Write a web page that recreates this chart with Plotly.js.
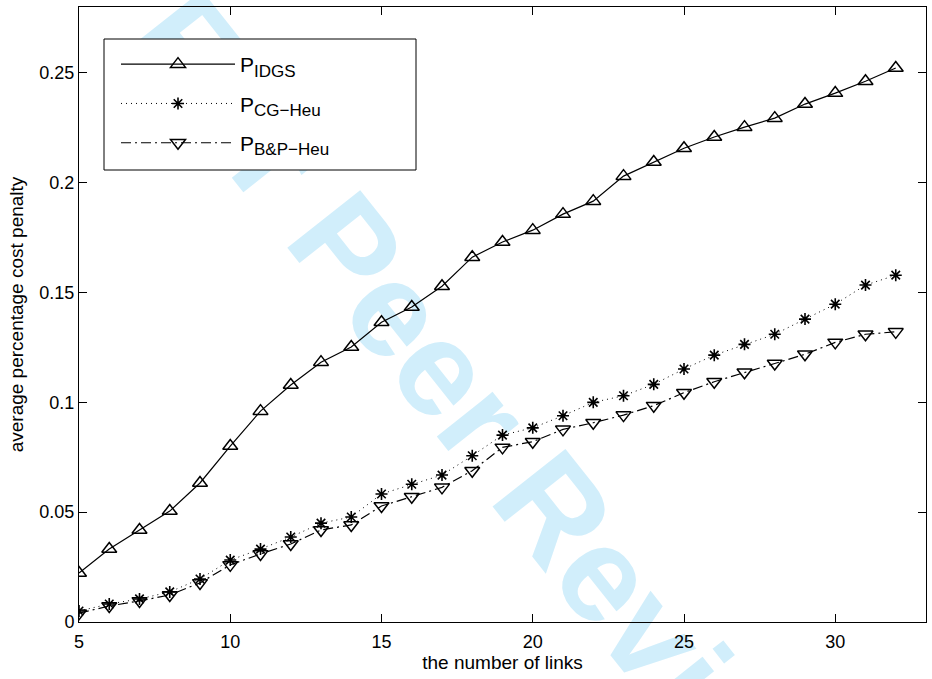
<!DOCTYPE html>
<html>
<head>
<meta charset="utf-8">
<script src="https://cdn.plot.ly/plotly-3.0.1.min.js"></script>
<style>
  html, body { margin: 0; padding: 0; background: #ffffff; }
  #wm, #chart { position: absolute; left: 0; top: 0; width: 932px; height: 679px; }
</style>
</head>
<body>
<div id="wm"></div>
<div id="chart"></div>
<script>
// ---- data ----
const links = [5,6,7,8,9,10,11,12,13,14,15,16,17,18,19,20,21,22,23,24,25,26,27,28,29,30,31,32];
const pIDGS = [0.0223,0.0332,0.0419,0.0505,0.0633,0.0801,0.0960,0.1079,0.1183,0.1252,0.1365,0.1434,0.1529,0.1661,0.1730,0.1784,0.1857,0.1916,0.2030,0.2094,0.2157,0.2208,0.2253,0.2294,0.2358,0.2408,0.2462,0.2522];
const pCG = [0.0050,0.0082,0.0105,0.0137,0.0196,0.0282,0.0332,0.0387,0.0450,0.0478,0.0583,0.0627,0.0669,0.0757,0.0851,0.0884,0.0939,0.1000,0.1030,0.1082,0.1152,0.1215,0.1264,0.1310,0.1379,0.1447,0.1534,0.1579];
const pBP = [0.0040,0.0073,0.0096,0.0123,0.0178,0.0260,0.0310,0.0355,0.0419,0.0442,0.0528,0.0570,0.0613,0.0689,0.0795,0.0821,0.0877,0.0907,0.0942,0.0985,0.1044,0.1094,0.1137,0.1177,0.1219,0.1273,0.1310,0.1321];
const seriesBase = ['P', 'P', 'P'];
const seriesSub = ['IDGS', 'CG\u2212Heu', 'B&amp;P\u2212Heu'];
const xTicks = [5,10,15,20,25,30];
const yTicks = [0,0.05,0.1,0.15,0.2,0.25];
const yTickText = ['0','0.05','0.1','0.15','0.2','0.25'];
const xTitle = 'the number of links';
const yTitle = 'average percentage cost penalty';
const watermark = 'For Peer Review';

const FONT = 'Liberation Sans, Arial, Helvetica, sans-serif';

// plot area geometry (px) used to place legend box
const W = 932, H = 679, ML = 79, MR = 6, MT = 7, MB = 57;
const PW = W - ML - MR, PH = H - MT - MB;
const px2x = p => (p - ML) / PW;
const py2y = p => (H - MB - p) / PH;

// ---- watermark (drawn underneath) ----
Plotly.newPlot('wm', [], {
  width: W, height: H,
  margin: {l:0, r:0, t:0, b:0},
  paper_bgcolor: '#ffffff', plot_bgcolor: '#ffffff',
  xaxis: {visible: false}, yaxis: {visible: false},
  showlegend: false,
  annotations: [{
    text: watermark, xref: 'paper', yref: 'paper',
    x: 487 / W, y: 1 - 424 / H, xanchor: 'center', yanchor: 'middle',
    textangle: 51.6, showarrow: false,
    font: {family: FONT, size: 135, color: '#d1eefb', weight: 'bold'}
  }]
}, {staticPlot: true});

// ---- chart ----
const legName = i => seriesBase[i] + '<sub><span style="font-size:17px">' + seriesSub[i] + '</span></sub>';
const traces = [
  {x: links, y: pIDGS, name: legName(0), legendgroup: 'a', type: 'scatter', mode: 'lines+markers',
   line: {color: '#000', width: 1.2, dash: 'solid'},
   marker: {symbol: 'triangle-up-open', size: 13, color: '#000', line: {color: '#000', width: 1.5}}},
  {x: links, y: pCG, name: legName(1), legendgroup: 'b', type: 'scatter', mode: 'lines+markers',
   line: {color: '#000', width: 1, dash: '1px,4px'},
   marker: {symbol: 'asterisk-open', size: 10, color: '#000', line: {color: '#000', width: 1.6}}},
  {x: links, y: pBP, name: legName(2), legendgroup: 'c', type: 'scatter', mode: 'lines+markers',
   line: {color: '#000', width: 1.2, dash: '10px,4px,2px,4px'},
   marker: {symbol: 'triangle-down-open', size: 13, color: '#000', line: {color: '#000', width: 1.5}}}
];

const axisCommon = {
  showline: true, linecolor: '#000', linewidth: 1, mirror: 'ticks',
  ticks: 'inside', ticklen: 8, tickwidth: 1, tickcolor: '#000',
  showgrid: false, zeroline: false,
  tickfont: {family: FONT, size: 18, color: '#000'}
};

const layout = {
  width: W, height: H,
  margin: {l: ML, r: MR, t: MT, b: MB},
  paper_bgcolor: 'rgba(0,0,0,0)', plot_bgcolor: 'rgba(0,0,0,0)',
  font: {family: FONT, color: '#000'},
  xaxis: Object.assign({}, axisCommon, {
    range: [5, 33], tickvals: xTicks, ticktext: xTicks.map(String),
    ticklabelstandoff: 3,
    title: {text: xTitle, font: {family: FONT, size: 19, color: '#000'}, standoff: 3}
  }),
  yaxis: Object.assign({}, axisCommon, {
    range: [0, 0.28], tickvals: yTicks, ticktext: yTickText,
    title: {text: yTitle, font: {family: FONT, size: 19, color: '#000'}, standoff: 10}
  }),
  shapes: [{
    type: 'rect', xref: 'paper', yref: 'paper', layer: 'below',
    x0: px2x(104), x1: px2x(416), y0: py2y(170), y1: py2y(39),
    fillcolor: '#ffffff', line: {color: '#000', width: 1}
  }],
  showlegend: true,
  legend: {
    x: px2x(116), y: py2y(44), xanchor: 'left', yanchor: 'top',
    bgcolor: 'rgba(0,0,0,0)', borderwidth: 0,
    font: {family: FONT, size: 21, color: '#000'},
    itemwidth: 114, tracegroupgap: 9
  }
};

Plotly.newPlot('chart', traces, layout, {staticPlot: true});
</script>
</body>
</html>
